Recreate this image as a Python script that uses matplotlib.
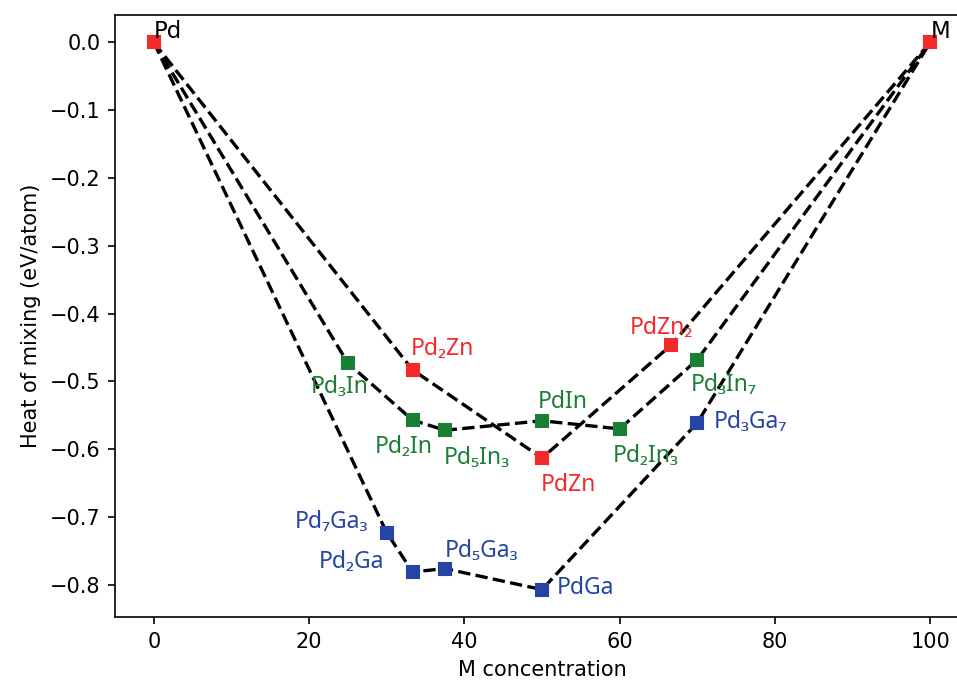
import matplotlib
matplotlib.use("Agg")
import matplotlib.pyplot as plt

# ---- data ----
zn_x = [0, 33.33, 50, 66.67, 100]
zn_y = [0.0, -0.483, -0.613, -0.446, 0.0]
zn_labels = [None, "Pd₂Zn", "PdZn", "PdZn₂", None]

in_x = [0, 25, 33.33, 37.5, 50, 60, 70, 100]
in_y = [0.0, -0.473, -0.557, -0.572, -0.558, -0.570, -0.468, 0.0]
in_labels = [None, "Pd₃In", "Pd₂In", "Pd₅In₃", "PdIn", "Pd₂In₃", "Pd₃In₇", None]

ga_x = [0, 30, 33.33, 37.5, 50, 70, 100]
ga_y = [0.0, -0.723, -0.781, -0.776, -0.807, -0.561, 0.0]
ga_labels = [None, "Pd₇Ga₃", "Pd₂Ga", "Pd₅Ga₃", "PdGa", "Pd₃Ga₇", None]

end_x = [0, 100]
end_y = [0.0, 0.0]
end_labels = ["Pd", "M"]

# ---- label offsets (points) ----
zn_off = [None, (-1, 10), (-0.5, -13), (-20, 8), None]
in_off = [None, (-18, -11.5), (-18, -13), (-0.5, -13.5), (-2, 9), (-3.4, -13), (-3, -12), None]
ga_off = [None, (-44, 5), (-45, 5), (0, 8.5), (7, 1), (8, 0.5), None]
end_off = [(0, 5), (0.5, 5)]

RED = "#f22a2a"
GREEN = "#1a7f35"
BLUE = "#2545a5"

fig = plt.figure(figsize=(957 / 150, 683 / 150), dpi=150)
ax = fig.add_axes([115 / 957, (683 - 617) / 683, 854 / 957, (617 - 15) / 683])
ax.spines["right"].set_visible(False)

lab_font = ["Noto Sans", "DejaVu Sans"]

for xs, ys, labs, offs, col in [
    (zn_x, zn_y, zn_labels, zn_off, RED),
    (in_x, in_y, in_labels, in_off, GREEN),
    (ga_x, ga_y, ga_labels, ga_off, BLUE),
]:
    ax.plot(xs, ys, "k--", lw=1.6, zorder=2)
    ax.plot(xs[1:-1], ys[1:-1], "s", color=col, ms=5.3, zorder=3)
    for x, y, lab, off in zip(xs, ys, labs, offs):
        if lab is None:
            continue
        ax.annotate(lab, (x, y), xytext=off, textcoords="offset points",
                    ha="left", va="center", color=col, fontsize=11,
                    family=lab_font, zorder=4)

ax.plot(end_x, end_y, "s", color=RED, ms=5.3, zorder=3)
for x, y, lab, off in zip(end_x, end_y, end_labels, end_off):
    ax.annotate(lab, (x, y), xytext=off, textcoords="offset points",
                ha="left", va="center", color="black", fontsize=11, zorder=4)

ax.set_xlim(-5, 105)
ax.set_ylim(-0.8474, 0.0404)
ax.set_xlabel("M concentration")
ax.set_ylabel("Heat of mixing (eV/atom)")

fig.savefig("out.png", dpi=150)
